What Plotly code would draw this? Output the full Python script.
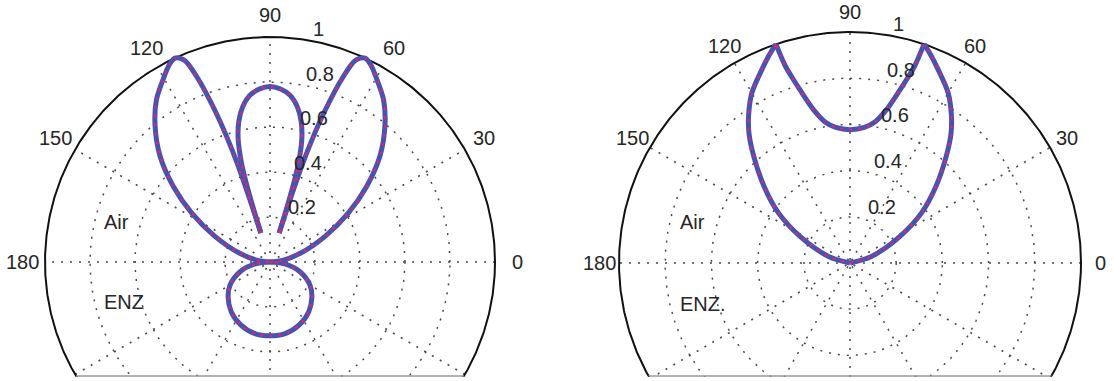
import numpy as np
import plotly.graph_objects as go

# ---------------------------------------------------------------
# Radiation patterns (angle in degrees, normalised radius).
# Upper half is given for 0..90 deg; the pattern is symmetric about 90 deg.
# ---------------------------------------------------------------
left_theta = [0, 8, 16, 25, 32, 38, 44, 50, 55, 60, 63, 65, 67, 68.5, 70, 71, 71.7, 72.1,
              72.5, 72.8, 73.3, 74.2, 75.6, 77.5, 80, 83, 86.5, 90]
left_r = [0.0, 0.06, 0.14, 0.27, 0.41, 0.545, 0.68, 0.795, 0.88, 0.945, 0.985, 1.0, 0.975, 0.88,
          0.72, 0.58, 0.45, 0.30, 0.135, 0.26, 0.38, 0.48, 0.57, 0.64, 0.70, 0.745, 0.77, 0.78]
# lower-half loop of the left pattern, 270..360 deg
left_low_theta = [270, 282, 295, 308, 320, 330, 342, 352, 360]
left_low_r = [0.328, 0.325, 0.308, 0.28, 0.243, 0.205, 0.14, 0.07, 0.0]
left_cusps = [72.5, 107.5, 180]

right_theta = [0, 17, 28, 35, 41.7, 48, 52, 55.5, 60, 65.5, 68.5, 71.3, 71.8, 72.7, 73.9,
               76.7, 80, 84, 90]
right_r = [0.0, 0.097, 0.245, 0.378, 0.498, 0.623, 0.71, 0.775, 0.85, 0.92, 0.962, 1.0, 0.9,
           0.84, 0.78, 0.68, 0.62, 0.59, 0.577]
right_cusps = [71.3, 108.7]

radial_ticks = [0.2, 0.4, 0.6, 0.8, 1]
angle_ticks = [0, 30, 60, 90, 120, 150, 180]
region_labels = ["Air", "ENZ"]

W, H = 1114, 381
CUT_Y = 377          # pixel row where the drawing is cut off at the bottom
FONT = "Liberation Sans, Arial, Helvetica, sans-serif"
FS = 20
TXT = "#262626"
BLUE = "#4453b4"
RED = "#f2215c"
GRID = "#4a4a4a"

panels = [
    dict(cx=270, cy=262, R=225, x0=0, x1=557, enz="ENZ", lab_r=1.1,
         theta=left_theta, r=left_r, low_theta=left_low_theta, low_r=left_low_r,
         cusps=left_cusps),
    dict(cx=850, cy=263, R=231, x0=557, x1=1114, enz="ENZ.", lab_r=1.085,
         theta=right_theta, r=right_r, low_theta=None, low_r=None,
         cusps=right_cusps),
]


def full_path(theta, r, low_theta, low_r):
    th = list(theta) + [180 - t for t in reversed(theta[:-1])]
    rr = list(r) + list(reversed(r[:-1]))
    if low_theta is not None:
        # 180..270 mirrored from 270..360, then 270..360
        mir = [(540 - t) for t in reversed(low_theta)]
        th += mir[1:] + list(low_theta)[1:]
        rr += list(reversed(low_r))[1:] + list(low_r)[1:]
    return th, rr


def to_xy(th, rr, cusps):
    xs, ys = [], []
    for t, v in zip(th, rr):
        a = np.radians(t)
        x, y = v * np.cos(a), v * np.sin(a)
        xs.append(x)
        ys.append(y)
        if any(abs(t - c) < 1e-9 for c in cusps):
            xs += [None, x]
            ys += [None, y]
    return xs, ys


fig = go.Figure()
annotations = []
phi = np.linspace(0, 2 * np.pi, 721)

for k, p in enumerate(panels):
    xa = "x" if k == 0 else "x2"
    ya = "y" if k == 0 else "y2"

    # dotted range circles
    gx, gy = [], []
    for rt in radial_ticks[:-1]:
        gx += list(rt * np.cos(phi)) + [None]
        gy += list(rt * np.sin(phi)) + [None]
    # dotted spokes through the centre
    for ang in angle_ticks[1:]:
        a = np.radians(ang)
        gx += [-np.cos(a), np.cos(a), None]
        gy += [-np.sin(a), np.sin(a), None]
    fig.add_trace(go.Scatter(x=gx, y=gy, mode="lines", xaxis=xa, yaxis=ya,
                             line=dict(color=GRID, width=1.5, dash="2px,7px"),
                             hoverinfo="skip", showlegend=False))

    # solid outer circle
    fig.add_trace(go.Scatter(x=np.cos(phi), y=np.sin(phi), mode="lines", xaxis=xa, yaxis=ya,
                             line=dict(color="#111111", width=2),
                             hoverinfo="skip", showlegend=False))

    # bottom edge of the cut-off plot
    vcut = (p["cy"] - (CUT_Y - 1)) / p["R"]
    half = np.sqrt(1 - vcut ** 2)
    fig.add_trace(go.Scatter(x=[-half, half], y=[vcut, vcut], mode="lines", xaxis=xa, yaxis=ya,
                             line=dict(color="#9a9a9a", width=1.5),
                             hoverinfo="skip", showlegend=False))

    # pattern: thick blue line with red dashes on top
    th, rr = full_path(p["theta"], p["r"], p["low_theta"], p["low_r"])
    px_, py_ = to_xy(th, rr, p["cusps"])
    fig.add_trace(go.Scatter(x=px_, y=py_, mode="lines", xaxis=xa, yaxis=ya,
                             line=dict(color=BLUE, width=5, shape="spline", smoothing=0.9),
                             hoverinfo="skip", showlegend=False))
    fig.add_trace(go.Scatter(x=px_, y=py_, mode="lines", xaxis=xa, yaxis=ya,
                             line=dict(color=RED, width=2, shape="spline", smoothing=0.9,
                                       dash="3px,6px"),
                             hoverinfo="skip", showlegend=False))

    # angle labels
    for ang in angle_ticks:
        a = np.radians(ang)
        annotations.append(dict(x=p["lab_r"] * np.cos(a), y=p["lab_r"] * np.sin(a),
                                xref=xa, yref=ya, text=str(ang), showarrow=False,
                                xanchor="center", yanchor="middle",
                                font=dict(family=FONT, size=FS, color=TXT)))
    # radial labels along 82 deg
    c82, s82 = np.cos(np.radians(82)), np.sin(np.radians(82))
    for rt in radial_ticks:
        rr_ = rt + 0.01
        annotations.append(dict(x=rr_ * c82, y=rr_ * s82, xref=xa, yref=ya,
                                text=f"{rt:g}", showarrow=False, xanchor="left",
                                yanchor="bottom", xshift=10, yshift=-4, borderpad=0,
                                font=dict(family=FONT, size=FS, color=TXT)))
    # region labels
    for lab, v in zip([region_labels[0], p["enz"]], [0.178, -0.178]):
        annotations.append(dict(x=-0.745, y=v, xref=xa, yref=ya, text=lab, showarrow=False,
                                xanchor="left", yanchor="middle",
                                font=dict(family=FONT, size=FS, color=TXT)))

layout = dict(
    width=W, height=H, margin=dict(l=0, r=0, t=0, b=0),
    paper_bgcolor="white", plot_bgcolor="white", showlegend=False,
    annotations=annotations,
)
ydom = [(H - CUT_Y) / H, 1]
for k, p in enumerate(panels):
    sx = "xaxis" if k == 0 else "xaxis2"
    sy = "yaxis" if k == 0 else "yaxis2"
    layout[sx] = dict(domain=[p["x0"] / W, p["x1"] / W],
                      range=[(p["x0"] - p["cx"]) / p["R"], (p["x1"] - p["cx"]) / p["R"]],
                      visible=False, fixedrange=True,
                      anchor="y" if k == 0 else "y2")
    layout[sy] = dict(domain=ydom,
                      range=[(p["cy"] - CUT_Y) / p["R"], p["cy"] / p["R"]],
                      visible=False, fixedrange=True,
                      anchor="x" if k == 0 else "x2")

fig.update_layout(**layout)
fig.write_html("out.html")
